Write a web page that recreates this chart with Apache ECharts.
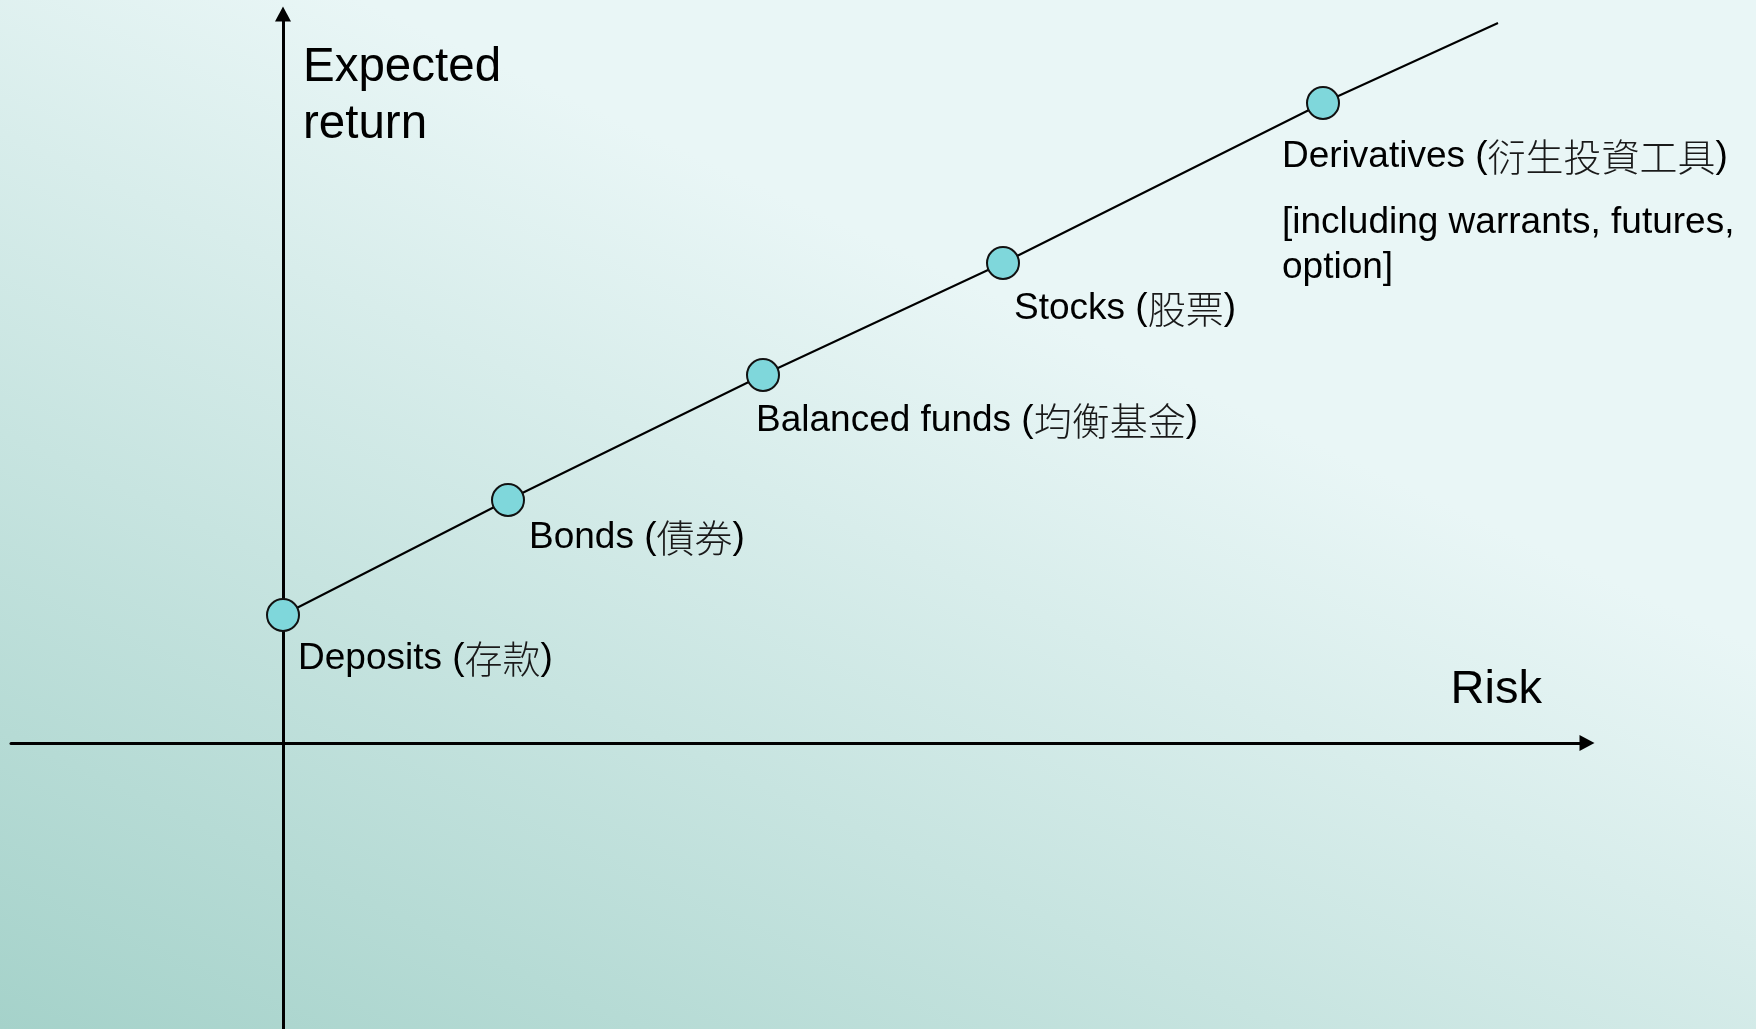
<!DOCTYPE html>
<html>
<head>
<meta charset="utf-8">
<script src="https://cdn.jsdelivr.net/npm/echarts@6/dist/echarts.min.js"></script>
<style>
  html, body { margin: 0; padding: 0; width: 1756px; height: 1029px; overflow: hidden; }
  #chart { width: 1756px; height: 1029px; }
</style>
</head>
<body>
<div id="chart"></div>
<script>
// ---- data ----
const namesEn = ['Deposits', 'Bonds', 'Balanced funds', 'Stocks', 'Derivatives'];
const namesZh = ['存款', '債券', '均衡基金', '股票', '衍生投資工具'];
const notes = ['', '', '', '', ['[including warrants, futures,', 'option]']];
const risk = [0, 2.25, 4.80, 7.20, 10.40];
const expectedReturn = [1.28, 2.43, 3.68, 4.80, 6.40];
const trendEnd = [12.15, 7.20];          // risk / return where the trend line stops
const axisTitles = { x: 'Risk', y: 'Expected\nreturn' };

// ---- layout (label offsets from each marker, in px) ----
const labelPos = [[32, 38.5], [38, 32.5], [10, 40.5], [28, 40.5], [-24, 48.5]];

const font = "'Liberation Sans', Arial, 'Noto Sans CJK TC', sans-serif";

const pointData = risk.map((r, i) => ({
  value: [r, expectedReturn[i]],
  label: {
    show: true,
    position: labelPos[i],
    align: 'left',
    verticalAlign: 'top',
    formatter: () => {
      let s = namesEn[i] + ' ({zh|' + namesZh[i] + '})';
      if (notes[i]) {
        s += '\n{gap| }\n' + notes[i].map(t => '{note|' + t + '}').join('\n');
      }
      return s;
    }
  }
}));
pointData.push({ value: trendEnd, symbol: 'none', label: { show: false } });

const chart = echarts.init(document.getElementById('chart'), null, { renderer: 'canvas' });
chart.setOption({
  animation: false,
  backgroundColor: {
    type: 'linear', x: 0, y: 1, x2: 0.26, y2: 0.043,
    colorStops: [
      { offset: 0, color: '#a5d2ca' },
      { offset: 1, color: '#e9f6f6' }
    ]
  },
  grid: { left: 11, right: 169, top: 14, bottom: 0, containLabel: false },
  xAxis: {
    type: 'value', min: -2.72, max: 13.04,
    name: axisTitles.x, nameLocation: 'end', nameGap: -45,
    nameTextStyle: {
      fontFamily: font, fontSize: 47, color: '#000', align: 'right',
      verticalAlign: 'bottom', lineHeight: 57, padding: [0, 0, 24, 0]
    },
    axisLine: {
      onZero: true, symbol: ['none', 'triangle'], symbolSize: [16, 15],
      lineStyle: { color: '#000', width: 3 }
    },
    axisTick: { show: false }, axisLabel: { show: false }, splitLine: { show: false }
  },
  yAxis: {
    type: 'value', min: -2.86, max: 7.29,
    name: axisTitles.y, nameLocation: 'end', nameGap: -25.5,
    nameTextStyle: {
      fontFamily: font, fontSize: 47.5, color: '#000', align: 'left',
      verticalAlign: 'top', lineHeight: 57, padding: [0, 0, 0, 20]
    },
    axisLine: {
      onZero: true, symbol: ['none', 'triangle'], symbolSize: [16, 15],
      lineStyle: { color: '#000', width: 3 }
    },
    axisTick: { show: false }, axisLabel: { show: false }, splitLine: { show: false }
  },
  series: [{
    type: 'line',
    data: pointData,
    symbol: 'circle',
    symbolSize: 32,
    clip: false,
    lineStyle: { color: '#000', width: 2 },
    itemStyle: { color: '#7fd7db', borderColor: '#111', borderWidth: 2 },
    label: {
      fontFamily: font, fontSize: 37, color: '#000', lineHeight: 45,
      rich: {
        zh: { fontFamily: "'Noto Sans CJK TC', sans-serif", fontSize: 38, color: '#1a1a1a', fontWeight: 300, lineHeight: 45 },
        gap: { fontSize: 10, lineHeight: 21 },
        note: { fontFamily: font, fontSize: 37, color: '#000', lineHeight: 45 }
      }
    },
    emphasis: { disabled: true },
    z: 3
  }]
});
</script>
</body>
</html>
